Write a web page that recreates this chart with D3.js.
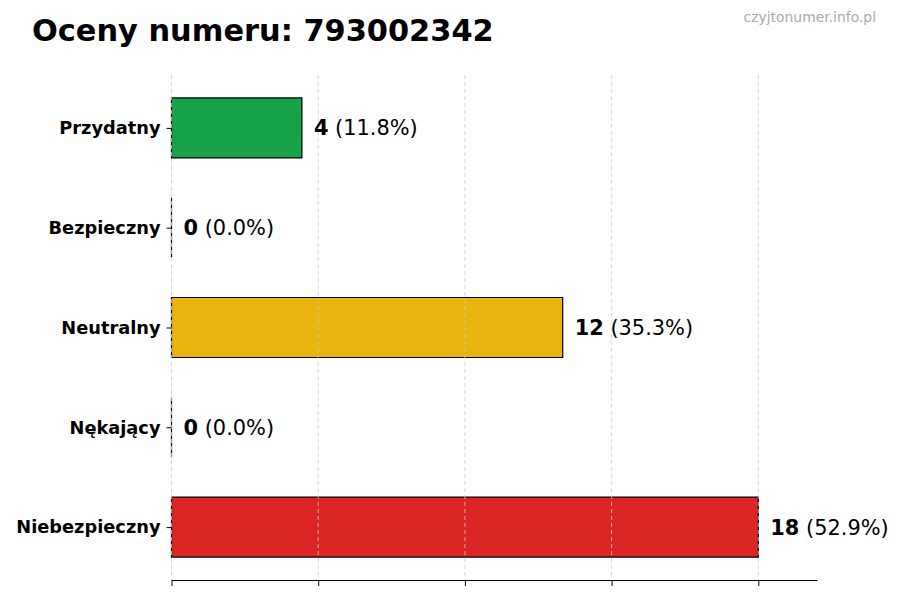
<!DOCTYPE html>
<html>
<head>
<meta charset="utf-8">
<script src="https://cdn.jsdelivr.net/npm/d3@7"></script>
<style>
  body { margin: 0; background: #fff; }
  svg { font-family: "DejaVu Sans", sans-serif; }
</style>
</head>
<body>
<svg width="900" height="600"></svg>
<script>
// DATA
const categories = ["Przydatny", "Bezpieczny", "Neutralny", "Nękający", "Niebezpieczny"];
const counts = [4, 0, 12, 0, 18];
const percents = ["11.8%", "0.0%", "35.3%", "0.0%", "52.9%"];
const barColors = ["#18a348", "#2563eb", "#e9b40b", "#ea580c", "#dc2626"];
const xTicks = [0, 4.5, 9, 13.5, 18];

const svg = d3.select("svg");

// plot area
const plotLeft = 171.5, plotRight = 817, plotTop = 75, plotBottom = 580;

const xScale = d3.scaleLinear().domain([0, 19.8]).range([plotLeft, plotRight]);
const yScale = d3.scalePoint().domain(categories).range([plotTop, plotBottom]).padding(0.53);
const barH = 60;

// title + watermark
svg.append("text")
  .attr("x", 32).attr("y", 41)
  .attr("font-size", 30.4).attr("font-weight", "bold")
  .text("Oceny numeru: 793002342");

svg.append("text")
  .attr("x", 876).attr("y", 22)
  .attr("text-anchor", "end")
  .attr("font-size", 13.9).attr("fill", "#aaaaaa")
  .text("czyjtonumer.info.pl");

// bars (paths so zero-width bars still show their edge)
svg.append("g")
  .selectAll("path")
  .data(categories)
  .join("path")
  .attr("d", (d, i) => {
    const x0 = xScale(0), x1 = xScale(counts[i]);
    const y0 = yScale(d) - barH / 2, y1 = yScale(d) + barH / 2;
    return `M${x0},${y0}H${x1}V${y1}H${x0}Z`;
  })
  .attr("fill", (d, i) => barColors[i])
  .attr("stroke", "#000")
  .attr("stroke-width", 1.2);

// grid lines on top of bars
svg.append("g")
  .selectAll("line")
  .data(xTicks)
  .join("line")
  .attr("x1", d => xScale(d)).attr("x2", d => xScale(d))
  .attr("y1", plotTop).attr("y2", plotBottom)
  .attr("stroke", "#cccccc")
  .attr("stroke-width", 0.8)
  .attr("stroke-dasharray", "4,3");

// x axis, no labels
const xAxis = d3.axisBottom(xScale).tickValues(xTicks).tickFormat("").tickSize(6).tickSizeOuter(0);
svg.append("g")
  .attr("transform", `translate(0,${plotBottom})`)
  .call(xAxis)
  .call(g => g.select(".domain").attr("stroke-width", 1.2));

// y axis: labels and little ticks, no spine
const yAxis = d3.axisLeft(yScale).tickSize(5).tickPadding(6);
svg.append("g")
  .attr("transform", `translate(${plotLeft},0)`)
  .call(yAxis)
  .call(g => g.select(".domain").remove())
  .call(g => g.selectAll("text")
    .attr("font-size", 17.8)
    .attr("font-weight", "bold")
    .attr("font-family", "DejaVu Sans")
    .attr("fill", "#000"));

// value labels
const labels = svg.append("g")
  .selectAll("text")
  .data(categories)
  .join("text")
  .attr("x", (d, i) => xScale(counts[i]) + 12)
  .attr("y", d => yScale(d))
  .attr("dy", "0.36em")
  .attr("font-size", 20.9);
labels.append("tspan").attr("font-weight", "bold").text((d, i) => counts[i]);
labels.append("tspan").text((d, i) => " (" + percents[i] + ")");
</script>
</body>
</html>
